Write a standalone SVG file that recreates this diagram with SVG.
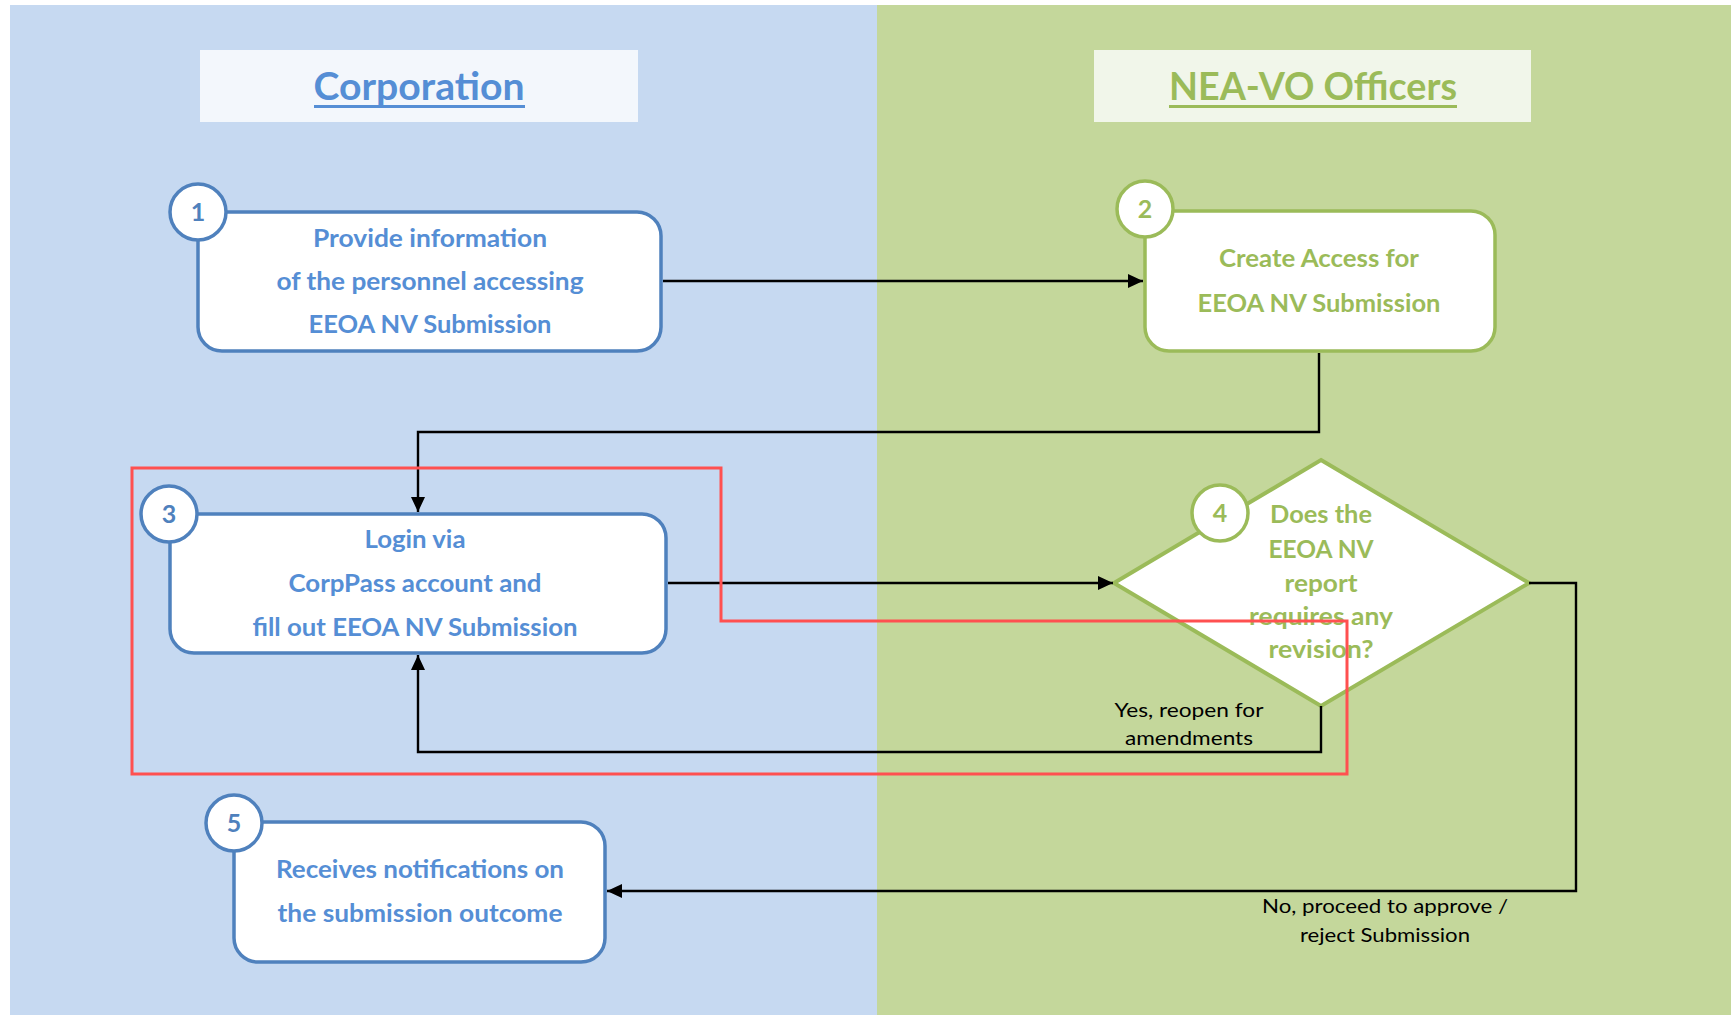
<svg xmlns="http://www.w3.org/2000/svg" width="1731" height="1015" viewBox="0 0 1731 1015">
<style>
.blue-box{fill:#FFFFFF;stroke:#4F81BD;stroke-width:3.5}
.green-box{fill:#FFFFFF;stroke:#9BBB59;stroke-width:3.5}
.bt{font-family:Lato,"Liberation Sans",sans-serif;font-weight:bold;font-size:25px;fill:#558ED5;text-anchor:middle}
.gt{font-family:Lato,"Liberation Sans",sans-serif;font-weight:bold;font-size:25px;fill:#9BBB59;text-anchor:middle}
.num-b{font-family:Lato,"Liberation Sans",sans-serif;font-weight:bold;font-size:25px;fill:#4F81BD;text-anchor:middle}
.num-g{font-family:Lato,"Liberation Sans",sans-serif;font-weight:bold;font-size:25px;fill:#9BBB59;text-anchor:middle}
.hdr{font-family:Lato,"Liberation Sans",sans-serif;font-weight:bold;font-size:39px;text-anchor:middle}
.lbl{font-family:Lato,"Liberation Sans",sans-serif;font-size:20px;fill:#000000;text-anchor:middle}
.conn{fill:none;stroke:#000000;stroke-width:2.4}
</style>
<defs>
<marker id="arr" markerUnits="userSpaceOnUse" markerWidth="16" markerHeight="14" refX="15" refY="7" orient="auto">
<path d="M0,0 L15,7 L0,14 Z" fill="#000000"/>
</marker>
</defs>

<g id="background">
<rect x="0" y="0" width="1731" height="1015" fill="#FFFFFF"/>
<rect x="10" y="5" width="867" height="1010" fill="#C6D9F1"/>
<rect x="877" y="5" width="854" height="1010" fill="#C4D79B"/>
</g>

<g id="header-corporation">
<rect x="200" y="50" width="438" height="72" fill="#F3F7FC"/>
<text class="hdr" x="419" y="100" fill="#558ED5" textLength="211" lengthAdjust="spacingAndGlyphs">Corporation</text>
<rect x="314" y="105" width="211" height="3" fill="#558ED5"/>
</g>

<g id="header-nea">
<rect x="1094" y="50" width="437" height="72" fill="#F1F6EA"/>
<text class="hdr" x="1313" y="100" fill="#9BBB59" textLength="288" lengthAdjust="spacingAndGlyphs">NEA-VO Officers</text>
<rect x="1169" y="105" width="288" height="3" fill="#9BBB59"/>
</g>

<g id="node1">
<rect class="blue-box" x="198" y="212" width="463" height="139" rx="24"/>
<circle cx="198" cy="212" r="28" fill="#FFFFFF" stroke="#4F81BD" stroke-width="3.5"/>
<text class="num-b" x="198" y="221">1</text>
<text class="bt" x="430" y="247" textLength="234" lengthAdjust="spacingAndGlyphs">Provide information</text>
<text class="bt" x="430" y="290" textLength="307" lengthAdjust="spacingAndGlyphs">of the personnel accessing</text>
<text class="bt" x="430" y="333" textLength="243" lengthAdjust="spacingAndGlyphs">EEOA NV Submission</text>
</g>

<g id="node2">
<rect class="green-box" x="1145" y="211" width="350" height="140" rx="24"/>
<circle cx="1145" cy="209" r="28" fill="#FFFFFF" stroke="#9BBB59" stroke-width="3.5"/>
<text class="num-g" x="1145" y="218">2</text>
<text class="gt" x="1319" y="267" textLength="200" lengthAdjust="spacingAndGlyphs">Create Access for</text>
<text class="gt" x="1319" y="312" textLength="243" lengthAdjust="spacingAndGlyphs">EEOA NV Submission</text>
</g>

<g id="node3">
<rect class="blue-box" x="170" y="514" width="496" height="139" rx="24"/>
<circle cx="169" cy="514" r="28" fill="#FFFFFF" stroke="#4F81BD" stroke-width="3.5"/>
<text class="num-b" x="169" y="523">3</text>
<text class="bt" x="415" y="548" textLength="101" lengthAdjust="spacingAndGlyphs">Login via</text>
<text class="bt" x="415" y="592" textLength="253" lengthAdjust="spacingAndGlyphs">CorpPass account and</text>
<text class="bt" x="415" y="636" textLength="325" lengthAdjust="spacingAndGlyphs">fill out EEOA NV Submission</text>
</g>

<g id="node4">
<polygon points="1321,460 1529,583 1321,706 1114,583" fill="#FFFFFF" stroke="#9BBB59" stroke-width="4"/>
<circle cx="1220" cy="513" r="28" fill="#FFFFFF" stroke="#9BBB59" stroke-width="3.5"/>
<text class="num-g" x="1220" y="522">4</text>
<text class="gt" x="1321" y="523" textLength="102" lengthAdjust="spacingAndGlyphs">Does the</text>
<text class="gt" x="1321" y="558" textLength="105" lengthAdjust="spacingAndGlyphs">EEOA NV</text>
<text class="gt" x="1321" y="592" textLength="73" lengthAdjust="spacingAndGlyphs">report</text>
<text class="gt" x="1321" y="625" textLength="144" lengthAdjust="spacingAndGlyphs">requires any</text>
<text class="gt" x="1321" y="658" textLength="105" lengthAdjust="spacingAndGlyphs">revision?</text>
</g>

<g id="node5">
<rect class="blue-box" x="234" y="822" width="371" height="140" rx="24"/>
<circle cx="234" cy="823" r="28" fill="#FFFFFF" stroke="#4F81BD" stroke-width="3.5"/>
<text class="num-b" x="234" y="832">5</text>
<text class="bt" x="420" y="878" textLength="288" lengthAdjust="spacingAndGlyphs">Receives notifications on</text>
<text class="bt" x="420" y="922" textLength="285" lengthAdjust="spacingAndGlyphs">the submission outcome</text>
</g>

<g id="connectors">
<path class="conn" d="M663,281 H1143" marker-end="url(#arr)"/>
<path class="conn" d="M1319,353 V432 H418 V512" marker-end="url(#arr)"/>
<path class="conn" d="M668,583 H1113" marker-end="url(#arr)"/>
<path class="conn" d="M1321,706 V752 H418 V655" marker-end="url(#arr)"/>
<path class="conn" d="M1529,583 H1576 V891 H607" marker-end="url(#arr)"/>
<text class="lbl" x="1189" y="717" textLength="149" lengthAdjust="spacingAndGlyphs">Yes, reopen for</text>
<text class="lbl" x="1189" y="745" textLength="128" lengthAdjust="spacingAndGlyphs">amendments</text>
<text class="lbl" x="1385" y="913" textLength="246" lengthAdjust="spacingAndGlyphs">No, proceed to approve /</text>
<text class="lbl" x="1385" y="942" textLength="170" lengthAdjust="spacingAndGlyphs">reject Submission</text>
</g>

<g id="highlight">
<path d="M132,468 H721 V621 H1347 V774 H132 Z" fill="none" stroke="#FF5050" stroke-width="3"/>
</g>
</svg>
